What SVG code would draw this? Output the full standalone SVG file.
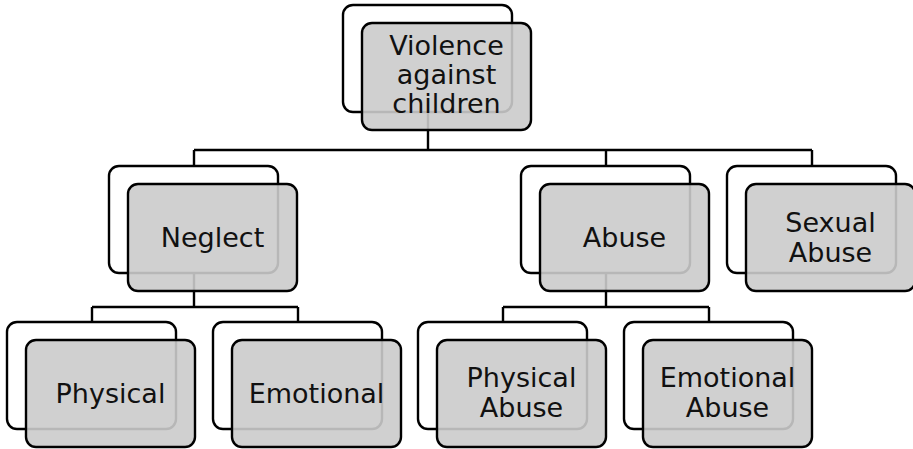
<svg xmlns="http://www.w3.org/2000/svg" width="913" height="449" viewBox="0 0 913 449">
<style>
.back{fill:#ffffff;stroke:#000;stroke-width:2.4}
.front{fill:rgb(203,203,203);fill-opacity:0.9;stroke:#000;stroke-width:2.4}
.lbl{font-family:"DejaVu Sans","Liberation Sans",sans-serif;font-size:27px;fill:#111;text-anchor:middle}
.conn{fill:none;stroke:#000;stroke-width:2.4}
</style>
<rect width="913" height="449" fill="#fff"/>
<g id="connectors" class="conn">
<path d="M428 112V150M194 150H812M194 150V166M606 150V166M812 150V166"/>
<path d="M194 273V307M92 307H298M92 307V322M298 307V322"/>
<path d="M606 273V307M503 307H709M503 307V322M709 307V322"/>
</g>
<g id="root">
<rect class="back" x="343" y="5" width="169" height="107" rx="10"/>
<rect class="front" x="362" y="23" width="169" height="107" rx="10"/>
<text class="lbl" x="446.5" y="55">Violence</text>
<text class="lbl" x="446.5" y="84">against</text>
<text class="lbl" x="446.5" y="113">children</text>
</g>
<g id="neglect">
<rect class="back" x="109" y="166" width="169" height="107" rx="10"/>
<rect class="front" x="128" y="184" width="169" height="107" rx="10"/>
<text class="lbl" x="212.5" y="247">Neglect</text>
</g>
<g id="abuse">
<rect class="back" x="521" y="166" width="169" height="107" rx="10"/>
<rect class="front" x="540" y="184" width="169" height="107" rx="10"/>
<text class="lbl" x="624.5" y="247">Abuse</text>
</g>
<g id="sexual-abuse">
<rect class="back" x="727" y="166" width="169" height="107" rx="10"/>
<rect class="front" x="746" y="184" width="169" height="107" rx="10"/>
<text class="lbl" x="830.5" y="232">Sexual</text>
<text class="lbl" x="830.5" y="262">Abuse</text>
</g>
<g id="physical">
<rect class="back" x="7" y="322" width="169" height="107" rx="10"/>
<rect class="front" x="26" y="340" width="169" height="107" rx="10"/>
<text class="lbl" x="110.5" y="403">Physical</text>
</g>
<g id="emotional">
<rect class="back" x="213" y="322" width="169" height="107" rx="10"/>
<rect class="front" x="232" y="340" width="169" height="107" rx="10"/>
<text class="lbl" x="316.5" y="403">Emotional</text>
</g>
<g id="physical-abuse">
<rect class="back" x="418" y="322" width="169" height="107" rx="10"/>
<rect class="front" x="437" y="340" width="169" height="107" rx="10"/>
<text class="lbl" x="521.5" y="387">Physical</text>
<text class="lbl" x="521.5" y="417">Abuse</text>
</g>
<g id="emotional-abuse">
<rect class="back" x="624" y="322" width="169" height="107" rx="10"/>
<rect class="front" x="643" y="340" width="169" height="107" rx="10"/>
<text class="lbl" x="727.5" y="387">Emotional</text>
<text class="lbl" x="727.5" y="417">Abuse</text>
</g>
</svg>
